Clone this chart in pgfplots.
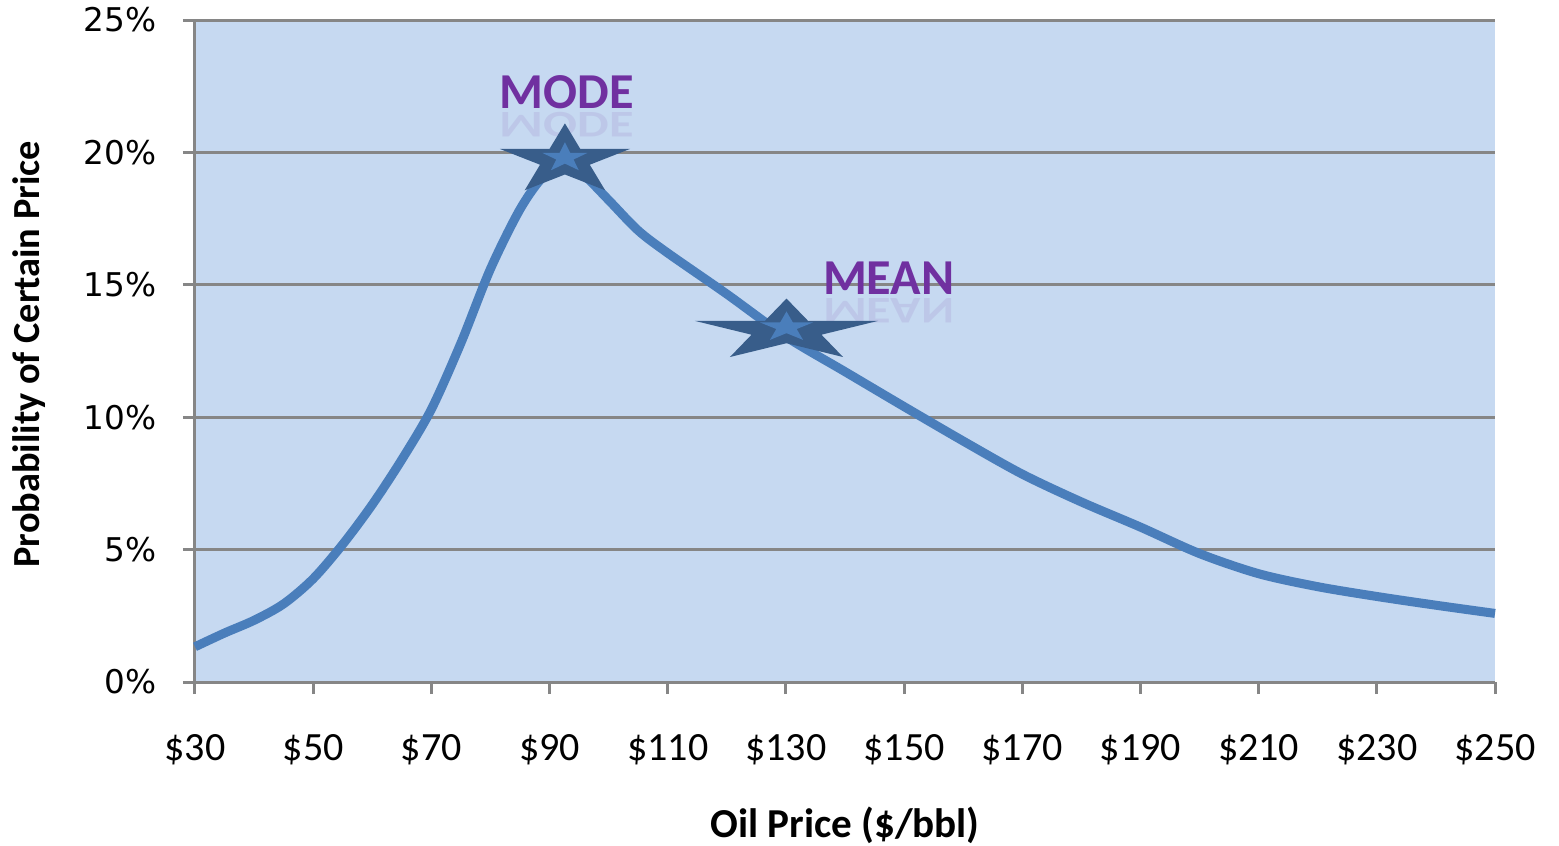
\documentclass[border=0pt]{standalone}
\usepackage{fontspec}
\setmainfont{Carlito}
\newfontfamily\dejavu{DejaVu Sans}
\usepackage{pgfplots}
\pgfplotsset{compat=1.18}

\definecolor{bgblue}{HTML}{C6D9F1}
\definecolor{gridgray}{HTML}{868686}
\definecolor{lineblue}{HTML}{4A7EBB}
\definecolor{stardark}{HTML}{385D8A}
\definecolor{labelpurple}{HTML}{7030A0}

% five-point star, stretched later with xscale in mark options
\pgfdeclareplotmark{xstar}{%
  \pgfpathmoveto{\pgfpointpolar{90}{\pgfplotmarksize}}%
  \pgfpathlineto{\pgfpointpolar{126}{0.382*\pgfplotmarksize}}%
  \pgfpathlineto{\pgfpointpolar{162}{\pgfplotmarksize}}%
  \pgfpathlineto{\pgfpointpolar{198}{0.382*\pgfplotmarksize}}%
  \pgfpathlineto{\pgfpointpolar{234}{\pgfplotmarksize}}%
  \pgfpathlineto{\pgfpointpolar{270}{0.382*\pgfplotmarksize}}%
  \pgfpathlineto{\pgfpointpolar{306}{\pgfplotmarksize}}%
  \pgfpathlineto{\pgfpointpolar{342}{0.382*\pgfplotmarksize}}%
  \pgfpathlineto{\pgfpointpolar{18}{\pgfplotmarksize}}%
  \pgfpathlineto{\pgfpointpolar{54}{0.382*\pgfplotmarksize}}%
  \pgfpathclose
  \pgfusepathqfill
}

\begin{document}
\begin{tikzpicture}
\useasboundingbox (-19.5mm,-16.3mm) rectangle (136.4mm,68.2mm);
\begin{axis}[
  scale only axis, width=130mm, height=66.2mm,
  xmin=30, xmax=250, ymin=0, ymax=25,
  axis lines=left, axis line style={gridgray, line width=0.3mm, -},
  axis background/.style={fill=bgblue},
  xtick={30,50,...,250}, ytick={0,5,...,25},
  ymajorgrids, grid style={gridgray, line width=0.3mm},
  tick align=outside, major tick length=1.2mm,
  tick style={gridgray, line width=0.3mm},
  /pgf/number format/assume math mode=true,
  xticklabel={\$\pgfmathprintnumber{\tick}},
  yticklabel={\pgfmathprintnumber{\tick}\%},
  xticklabel style={font=\fontsize{11.4}{13}\selectfont, anchor=base, inner sep=0pt, yshift=-6.6mm},
  yticklabel style={font=\dejavu\fontsize{9.3}{11}\selectfont, anchor=east, inner sep=0pt, xshift=-2.6mm},
  xlabel={Oil Price (\$/bbl)},
  ylabel={Probability of Certain Price},
  xlabel style={font=\bfseries\fontsize{11.7}{14}\selectfont, at={(axis description cs:0.5,-0.216)}, anchor=center},
  ylabel style={font=\bfseries\fontsize{10.9}{13}\selectfont, at={(axis description cs:-0.128,0.495)}, anchor=center},
  clip=false,
]
\addplot[lineblue, line width=0.9mm, smooth, tension=0.5] coordinates {
  (30,1.33) (35,1.85) (40,2.33) (45,2.95) (50,3.9) (55,5.2) (60,6.7)
  (65,8.4) (70,10.3) (75,12.8) (80,15.6) (85,17.85) (89,19.1) (92.7,19.55)
  (96,19.1) (100,18.2) (105,17.05) (110,16.2) (120,14.65) (130,13.04)
  (140,11.72) (150,10.4) (160,9.1) (170,7.85) (180,6.8) (190,5.85)
  (200,4.85) (210,4.09) (220,3.6) (230,3.23) (240,2.9) (250,2.59)
};
% mode marker
\addplot[only marks, mark=xstar, mark size=3.7mm,
  mark options={xscale=1.85, fill=stardark}] coordinates {(92.6,19.7)};
\addplot[only marks, mark=xstar, mark size=1.55mm,
  mark options={xscale=1.53, fill=lineblue}] coordinates {(92.6,19.8)};
% mean marker
\addplot[only marks, mark=xstar, mark size=3.23mm,
  mark options={xscale=2.98, fill=stardark}] coordinates {(130.1,13.26)};
\addplot[only marks, mark=xstar, mark size=1.57mm,
  mark options={xscale=1.79, fill=lineblue}] coordinates {(130.1,13.4)};

\node[inner sep=0pt, font=\bfseries\fontsize{14.3}{16}\selectfont, text=labelpurple] at (axis cs:92.9,22.28) {MODE};
\node[inner sep=0pt, yscale=-0.75, opacity=0.1, font=\bfseries\fontsize{14.3}{16}\selectfont, text=labelpurple] at (axis cs:92.9,21.05) {MODE};
\node[inner sep=0pt, font=\bfseries\fontsize{14.3}{16}\selectfont, text=labelpurple] at (axis cs:147.4,15.26) {MEAN};
\node[inner sep=0pt, yscale=-0.75, opacity=0.1, font=\bfseries\fontsize{14.3}{16}\selectfont, text=labelpurple] at (axis cs:147.4,14.03) {MEAN};
\end{axis}
\end{tikzpicture}
\end{document}
